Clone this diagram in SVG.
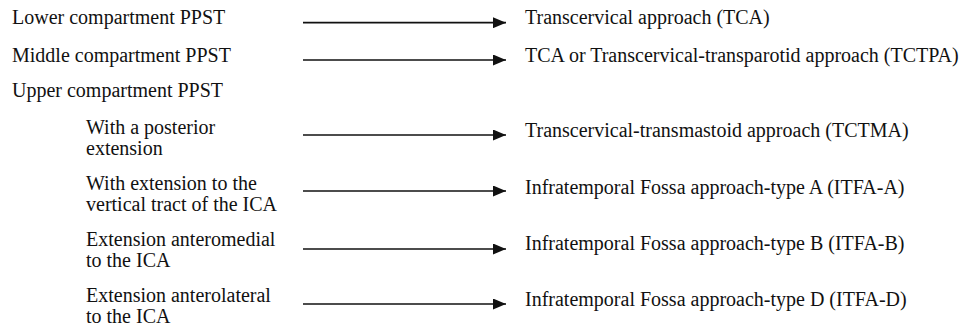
<svg xmlns="http://www.w3.org/2000/svg" width="973" height="328" viewBox="0 0 973 328">
<style>
.t { font-family: 'Liberation Serif', 'Times New Roman', serif; font-size: 20px; fill: #111; }
.conn line { stroke: #111; stroke-width: 1.7; }
</style>
<defs>
<marker id="ah" markerUnits="userSpaceOnUse" markerWidth="13" markerHeight="11" refX="13" refY="5.5" orient="auto">
<path d="M0,0 L13,5.5 L0,11 Z" fill="#111"/>
</marker>
</defs>
<rect width="973" height="328" fill="#fff"/>
<g class="t">
<g id="n-lower"><text x="12" y="24">Lower compartment PPST</text></g>
<g id="n-middle"><text x="12" y="62">Middle compartment PPST</text></g>
<g id="n-upper"><text x="12" y="97">Upper compartment PPST</text></g>
<g id="n-posterior"><text x="86" y="134">With a posterior</text><text x="86" y="155">extension</text></g>
<g id="n-vertical"><text x="86" y="190">With extension to the</text><text x="86" y="211">vertical tract of the ICA</text></g>
<g id="n-anteromedial"><text x="86" y="246">Extension anteromedial</text><text x="86" y="267">to the ICA</text></g>
<g id="n-anterolateral"><text x="86" y="302">Extension anterolateral</text><text x="86" y="323">to the ICA</text></g>
<g id="r-tca"><text x="525" y="24">Transcervical approach (TCA)</text></g>
<g id="r-tctpa"><text x="525" y="62">TCA or Transcervical-transparotid approach (TCTPA)</text></g>
<g id="r-tctma"><text x="525" y="137">Transcervical-transmastoid approach (TCTMA)</text></g>
<g id="r-itfa-a"><text x="525" y="194">Infratemporal Fossa approach-type A (ITFA-A)</text></g>
<g id="r-itfa-b"><text x="525" y="250">Infratemporal Fossa approach-type B (ITFA-B)</text></g>
<g id="r-itfa-d"><text x="525" y="306">Infratemporal Fossa approach-type D (ITFA-D)</text></g>
</g>
<g class="conn" id="connectors">
<line x1="303" y1="22.7" x2="506" y2="22.7" marker-end="url(#ah)"/>
<line x1="303" y1="60" x2="506" y2="60" marker-end="url(#ah)"/>
<line x1="303" y1="135" x2="506" y2="135" marker-end="url(#ah)"/>
<line x1="303" y1="191" x2="506" y2="191" marker-end="url(#ah)"/>
<line x1="303" y1="249" x2="506" y2="249" marker-end="url(#ah)"/>
<line x1="303" y1="304" x2="506" y2="304" marker-end="url(#ah)"/>
</g>
</svg>
